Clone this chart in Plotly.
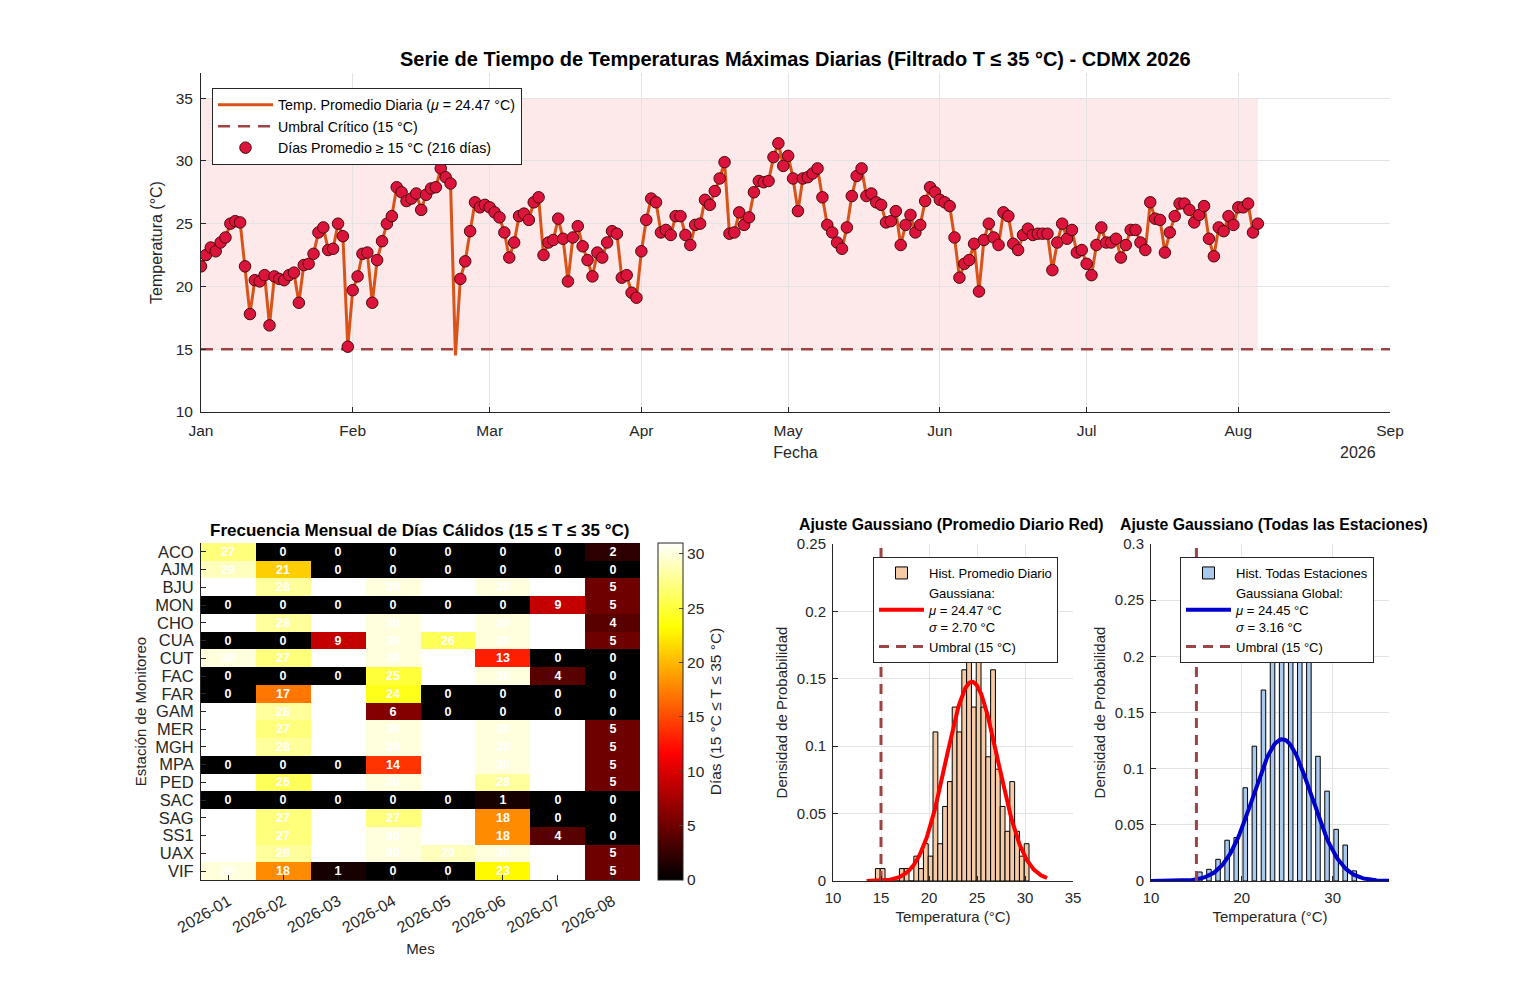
import numpy as np
import pandas as pd
import plotly.graph_objects as go

# promedio diario de la red (°C), desde el 1 de enero de 2026
temp_prom = [21.6, 22.5, 23.1, 22.8, 23.5, 23.9, 25.0, 25.2, 25.1, 21.6,
             17.8, 20.5, 20.4, 20.9, 16.9, 20.8, 20.6, 20.5, 20.9, 21.1,
             18.7, 21.7, 21.8, 22.6, 24.3, 24.7, 22.9, 23.0, 25.0, 24.0,
             15.2, 19.7, 20.8, 22.6, 22.7, 18.7, 22.1, 23.6, 25.0, 25.6,
             27.9, 27.5, 26.8, 27.0, 27.4, 26.1, 27.3, 27.8, 27.9, 29.4,
             28.7, 28.2, 14.5, 20.6, 22.0, 24.4, 26.7, 26.3, 26.5, 26.3,
             25.9, 25.5, 24.3, 22.3, 23.5, 25.6, 25.8, 25.3, 26.7, 27.1,
             22.5, 23.5, 23.7, 25.4, 23.8, 20.4, 23.9, 24.8, 23.2, 22.1,
             20.8, 22.7, 22.3, 23.5, 24.4, 24.2, 20.7, 20.9, 19.5, 19.1,
             22.8, 25.3, 27.0, 26.7, 24.3, 24.5, 24.1, 25.6, 25.6, 24.1,
             23.3, 24.9, 25.0, 26.9, 26.5, 27.6, 28.6, 29.9, 24.2, 24.3,
             25.9, 24.9, 25.5, 27.5, 28.4, 28.3, 28.4, 30.3, 31.4, 29.6,
             30.4, 28.6, 26.0, 28.6, 28.7, 29.0, 29.4, 27.1, 24.9, 24.3,
             23.5, 23.0, 24.7, 27.2, 28.8, 29.4, 27.2, 27.4, 26.7, 26.5,
             25.1, 25.2, 26.0, 23.3, 24.9, 25.7, 24.3, 24.9, 26.8, 27.9,
             27.5, 26.9, 26.7, 26.4, 23.9, 20.7, 21.8, 22.1, 23.4, 19.6,
             23.7, 25.0, 23.9, 23.3, 25.9, 25.6, 23.4, 22.9, 24.1, 24.6,
             24.1, 24.2, 24.2, 24.2, 21.3, 23.5, 25.0, 23.8, 24.5, 22.7,
             22.9, 21.8, 20.9, 23.3, 24.7, 23.5, 23.5, 23.8, 22.3, 23.3,
             24.5, 24.5, 23.5, 22.9, 26.7, 25.4, 25.3, 22.7, 24.3, 25.6,
             26.6, 26.6, 26.1, 25.1, 25.7, 26.4, 23.8, 22.4, 24.7, 24.4,
             25.6, 24.9, 26.3, 26.3, 26.6, 24.3, 25.0]
umbral = 15
t_max = 35

estaciones = ["ACO", "AJM", "BJU", "MON", "CHO", "CUA", "CUT", "FAC", "FAR", "GAM",
              "MER", "MGH", "MPA", "PED", "SAC", "SAG", "SS1", "UAX", "VIF"]
meses = ["2026-01", "2026-02", "2026-03", "2026-04", "2026-05", "2026-06", "2026-07", "2026-08"]
dias_calidos = [
    [27, 0, 0, 0, 0, 0, 0, 2],
    [29, 21, 0, 0, 0, 0, 0, 0],
    [31, 28, 31, 30, 31, 30, 31, 5],
    [0, 0, 0, 0, 0, 0, 9, 5],
    [31, 28, 31, 30, 31, 30, 31, 4],
    [0, 0, 9, 30, 26, 30, 31, 5],
    [30, 27, 31, 30, 31, 13, 0, 0],
    [0, 0, 0, 25, 31, 30, 4, 0],
    [0, 17, 31, 24, 0, 0, 0, 0],
    [31, 28, 31, 6, 0, 0, 0, 0],
    [31, 27, 31, 30, 31, 30, 31, 5],
    [31, 28, 31, 30, 31, 30, 31, 5],
    [0, 0, 0, 14, 31, 30, 31, 5],
    [31, 26, 31, 30, 31, 28, 31, 5],
    [0, 0, 0, 0, 0, 1, 0, 0],
    [31, 27, 31, 27, 31, 18, 0, 0],
    [31, 27, 31, 30, 31, 18, 4, 0],
    [31, 28, 31, 30, 29, 30, 31, 5],
    [30, 18, 1, 0, 0, 23, 31, 5],
]

# histograma del promedio diario (ancho 0.5 °C)
hist_prom_inicio = 14.42
hist_prom_ancho = 0.5
hist_prom_conteo = [1, 1, 0, 0, 0, 1, 1, 0, 2, 1, 3, 2, 12, 3, 6, 8,
                    14, 12, 17, 21, 14, 21, 14, 10, 17, 9, 6, 4, 8, 4, 2, 3]
mu_prom, sigma_prom = 24.47, 2.70

# histograma de todas las estaciones (densidad)
hist_todas_centros = [10.38, 12.38, 15.38, 16.38, 17.38, 18.38, 19.38, 20.38, 21.38, 22.38,
                      23.38, 24.38, 25.38, 26.38, 27.38, 28.38, 29.38, 30.38, 31.38, 32.38]
hist_todas_dens = [0.0005, 0.001, 0.008, 0.0104, 0.0193, 0.0363, 0.0387, 0.083, 0.120, 0.170,
                   0.200, 0.25, 0.28, 0.27, 0.236, 0.111, 0.080, 0.046, 0.032, 0.009]
mu_todas, sigma_todas = 24.45, 3.16

FONT = "Liberation Sans, Arial, sans-serif"
TXT = "#262626"
NARANJA = "#D95319"
ROJO_UMBRAL = "#9E4444"
# la página deja 8 px de margen; la figura se dibuja dentro de ese hueco
OFF = 8
W, H = 1537 - 2 * OFF, 990 - 2 * OFF


def px(x):
    return (x - OFF) / W


def py(y):
    return 1 - (y - OFF) / H


fechas = pd.date_range("2026-01-01", periods=len(temp_prom), freq="D")
temp = np.array(temp_prom)
calidos = temp >= umbral


def gauss(x, mu, sigma):
    return np.exp(-0.5 * ((x - mu) / sigma) ** 2) / (sigma * np.sqrt(2 * np.pi))


fig = go.Figure()

# ---- serie de tiempo ----
fig.add_shape(type="rect", xref="x", yref="y", x0=fechas[0], x1=fechas[-1], y0=umbral, y1=t_max,
              fillcolor="rgba(250,200,205,0.42)", line_width=0, layer="below")
fig.add_trace(go.Scatter(x=fechas, y=temp, mode="lines", line=dict(color=NARANJA, width=3),
                         name="Temp. Promedio Diaria (<i>μ</i> = 24.47 °C)", legend="legend",
                         xaxis="x", yaxis="y"))
fig.add_trace(go.Scatter(x=[pd.Timestamp("2026-01-01"), pd.Timestamp("2026-09-01")], y=[umbral, umbral],
                         mode="lines", line=dict(color=ROJO_UMBRAL, width=2.5, dash="12px,8px"),
                         name="Umbral Crítico (15 °C)", legend="legend", xaxis="x", yaxis="y"))
fig.add_trace(go.Scatter(x=fechas[calidos], y=temp[calidos], mode="markers",
                         marker=dict(size=11.5, color="#DC143C", line=dict(color="#4A0A0A", width=1)),
                         name="Días Promedio ≥ 15 °C (%d días)" % calidos.sum(), legend="legend",
                         xaxis="x", yaxis="y"))

# ---- mapa de calor ----
fig.add_trace(go.Heatmap(z=dias_calidos, x=meses, y=estaciones, zmin=0, zmax=31,
                         colorscale=[[0, "black"], [0.375, "red"], [0.75, "yellow"], [1, "white"]],
                         texttemplate="%{z}", textfont=dict(color="white", size=12.5, family=FONT, weight="bold"),
                         hoverinfo="skip", showscale=True, xaxis="x2", yaxis="y2",
                         colorbar=dict(x=px(658), xanchor="left", y=py(880), yanchor="bottom",
                                       len=337 / H, lenmode="fraction", thickness=25, xpad=0, ypad=0,
                                       outlinewidth=1, outlinecolor=TXT, ticks="inside", ticklen=4,
                                       tickvals=[0, 5, 10, 15, 20, 25, 30],
                                       tickfont=dict(size=15.5, color=TXT),
                                       title=dict(text="Días (15 °C ≤ T ≤ 35 °C)", side="right",
                                                  font=dict(size=15.5, color=TXT)))))

# ---- histograma promedio diario ----
n_prom = sum(hist_prom_conteo)
centros_prom = [hist_prom_inicio + hist_prom_ancho * (i + 0.5) for i in range(len(hist_prom_conteo))]
dens_prom = [c / (n_prom * hist_prom_ancho) for c in hist_prom_conteo]
fig.add_trace(go.Bar(x=centros_prom, y=dens_prom, width=hist_prom_ancho,
                     marker=dict(color="#F5CBA7", line=dict(color="black", width=1)),
                     name="Hist. Promedio Diario", legend="legend2", xaxis="x3", yaxis="y3"))
xg1 = np.linspace(13.5, 32.3, 200)
fig.add_trace(go.Scatter(x=xg1, y=gauss(xg1, mu_prom, sigma_prom), mode="lines",
                         line=dict(color="#FF0000", width=4),
                         name="Gaussiana:<br><i>μ</i> = %.2f °C<br><i>σ</i> = %.2f °C" % (mu_prom, sigma_prom),
                         legend="legend2", xaxis="x3", yaxis="y3"))
fig.add_trace(go.Scatter(x=[umbral, umbral], y=[0, 0.25], mode="lines",
                         line=dict(color=ROJO_UMBRAL, width=3, dash="10px,7px"),
                         name="Umbral (15 °C)", legend="legend2", xaxis="x3", yaxis="y3"))

# ---- histograma todas las estaciones ----
fig.add_trace(go.Bar(x=hist_todas_centros, y=hist_todas_dens, width=0.5,
                     marker=dict(color="#A9C9EE", line=dict(color="black", width=1)),
                     name="Hist. Todas Estaciones", legend="legend3", xaxis="x4", yaxis="y4"))
xg2 = np.linspace(10, 36.2, 200)
fig.add_trace(go.Scatter(x=xg2, y=gauss(xg2, mu_todas, sigma_todas), mode="lines",
                         line=dict(color="#0000CD", width=4),
                         name="Gaussiana Global:<br><i>μ</i> = %.2f °C<br><i>σ</i> = %.2f °C" % (mu_todas, sigma_todas),
                         legend="legend3", xaxis="x4", yaxis="y4"))
fig.add_trace(go.Scatter(x=[umbral, umbral], y=[0, 0.3], mode="lines",
                         line=dict(color=ROJO_UMBRAL, width=3, dash="10px,7px"),
                         name="Umbral (15 °C)", legend="legend3", xaxis="x4", yaxis="y4"))

eje = dict(showline=True, linecolor=TXT, linewidth=1, ticks="inside", ticklen=5, tickcolor=TXT,
           zeroline=False, mirror=False, automargin=False)
grid = dict(showgrid=True, gridcolor="#E3E3E3", gridwidth=1)
leg = dict(bgcolor="white", bordercolor=TXT, borderwidth=1, font=dict(size=13, color="black"),
           xanchor="left", yanchor="top", itemwidth=45, tracegroupgap=0)

fig.update_layout(
    width=W, height=H, margin=dict(l=0, r=0, t=0, b=0, autoexpand=False),
    paper_bgcolor="white", plot_bgcolor="white",
    font=dict(family=FONT, size=14, color=TXT),
    showlegend=True,
    xaxis=dict(domain=[px(201), px(1390)], anchor="y", type="date",
               range=["2026-01-01", "2026-09-01"], dtick="M1", tick0="2026-01-01", tickformat="%b",
               tickfont=dict(size=15.5, color=TXT), ticklabelstandoff=4,
               title=dict(text="Fecha", font=dict(size=16), standoff=9), **eje, **grid),
    yaxis=dict(domain=[py(412), py(73)], anchor="x", range=[10, 37], dtick=5, tick0=10,
               tickfont=dict(size=15.5, color=TXT), ticklabelstandoff=4,
               title=dict(text="Temperatura (°C)", font=dict(size=16), standoff=9), **eje, **grid),
    xaxis2=dict(domain=[px(201), px(640)], anchor="y2", type="category", tickangle=-30, showgrid=False,
                tickmode="array", tickvals=meses, tickfont=dict(size=16, color=TXT), ticklabelstandoff=5,
                title=dict(text="Mes", font=dict(size=15), standoff=8), **eje),
    yaxis2=dict(domain=[py(880), py(543)], anchor="x2", type="category", autorange="reversed",
                showgrid=False, tickmode="array", tickvals=estaciones, tickfont=dict(size=16.5, color=TXT),
                ticklabelstandoff=3,
                title=dict(text="Estación de Monitoreo", font=dict(size=15), standoff=4), **eje),
    xaxis3=dict(domain=[px(833), px(1073)], anchor="y3", range=[10, 35], dtick=5,
                tickfont=dict(size=15, color=TXT), ticklabelstandoff=3,
                title=dict(text="Temperatura (°C)", font=dict(size=15), standoff=6), **eje, **grid),
    yaxis3=dict(domain=[py(881), py(544)], anchor="x3", range=[0, 0.25], dtick=0.05,
                tickfont=dict(size=15, color=TXT), ticklabelstandoff=3,
                title=dict(text="Densidad de Probabilidad", font=dict(size=15), standoff=5), **eje, **grid),
    xaxis4=dict(domain=[px(1151), px(1389)], anchor="y4", range=[10, 36.2], dtick=10,
                tickfont=dict(size=15, color=TXT), ticklabelstandoff=3,
                title=dict(text="Temperatura (°C)", font=dict(size=15), standoff=6), **eje, **grid),
    yaxis4=dict(domain=[py(881), py(544)], anchor="x4", range=[0, 0.3], dtick=0.05,
                tickfont=dict(size=15, color=TXT), ticklabelstandoff=3,
                title=dict(text="Densidad de Probabilidad", font=dict(size=15), standoff=5), **eje, **grid),
    legend=dict(x=px(212), y=py(88), **{**leg, "font": dict(size=14.2, color="black"), "itemwidth": 55}),
    legend2=dict(x=px(873), y=py(557), **leg),
    legend3=dict(x=px(1180), y=py(557), **leg),
    barmode="overlay",
)

titulos = [
    ("Serie de Tiempo de Temperaturas Máximas Diarias (Filtrado T ≤ 35 °C) - CDMX 2026", 795.5, 59, 20),
    ("Frecuencia Mensual de Días Cálidos (15 ≤ T ≤ 35 °C)", 420, 530, 17),
    ("Ajuste Gaussiano (Promedio Diario Red)", 951, 524, 15.8),
    ("Ajuste Gaussiano (Todas las Estaciones)", 1274, 524, 15.8),
]
for texto, tx, ty, size in titulos:
    fig.add_annotation(text="<b>%s</b>" % texto, x=px(tx), y=py(ty), xref="paper", yref="paper",
                       showarrow=False, xanchor="center", yanchor="middle",
                       font=dict(size=size, color="black", family=FONT))

fig.add_annotation(text="2026", x="2026-09-01", y=py(452), xref="x", yref="paper", showarrow=False,
                   xanchor="right", yanchor="middle", xshift=-12, font=dict(size=16, color=TXT))

fig.write_html("out.html")
